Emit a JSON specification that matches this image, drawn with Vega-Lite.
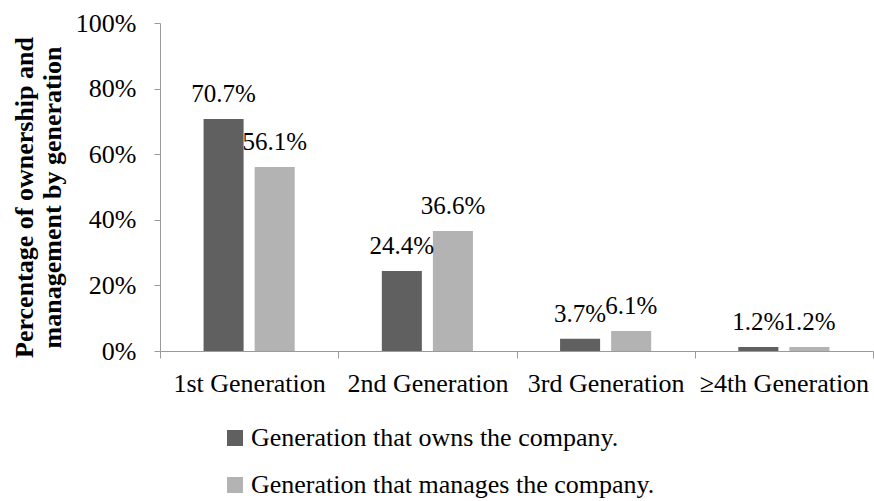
{
  "$schema": "https://vega.github.io/schema/vega-lite/v6.json",
  "width": 713,
  "height": 328,
  "autosize": {"type": "none"},
  "padding": {"left": 160, "top": 23, "right": 1, "bottom": 150},
  "background": "white",
  "config": {
    "view": {"stroke": null},
    "font": "Liberation Serif"
  },
  "data": {
    "values": [
      {"gen": "1st Generation", "series": "Generation that owns the company.", "value": 0.707},
      {"gen": "1st Generation", "series": "Generation that manages the company.", "value": 0.561},
      {"gen": "2nd Generation", "series": "Generation that owns the company.", "value": 0.244},
      {"gen": "2nd Generation", "series": "Generation that manages the company.", "value": 0.366},
      {"gen": "3rd Generation", "series": "Generation that owns the company.", "value": 0.037},
      {"gen": "3rd Generation", "series": "Generation that manages the company.", "value": 0.061},
      {"gen": "≥4th Generation", "series": "Generation that owns the company.", "value": 0.012},
      {"gen": "≥4th Generation", "series": "Generation that manages the company.", "value": 0.012}
    ]
  },
  "encoding": {
    "x": {
      "field": "gen", "type": "nominal", "sort": null,
      "scale": {"paddingInner": 0, "paddingOuter": 0},
      "axis": {
        "title": null, "labelAngle": 0, "tickBand": "extent",
        "labelFont": "Liberation Serif", "labelFontSize": 26, "labelColor": "black",
        "domainColor": "#9a9a9a", "tickColor": "#9a9a9a", "tickSize": 7,
        "labelPadding": 12, "labelLimit": 0
      }
    },
    "xOffset": {
      "field": "series", "type": "nominal", "sort": null,
      "scale": {"paddingInner": 0.216, "paddingOuter": 0.853}
    },
    "y": {
      "field": "value", "type": "quantitative",
      "scale": {"domain": [0, 1]},
      "axis": {
        "title": ["Percentage of ownership and", "management by generation"],
        "titleFont": "Liberation Serif", "titleFontSize": 26, "titleFontWeight": "bold",
        "titleColor": "black", "titleLineHeight": 28, "titlePadding": 10, "titleY": 174,
        "values": [0, 0.2, 0.4, 0.6, 0.8, 1], "format": ".0%",
        "labelFont": "Liberation Serif", "labelFontSize": 26, "labelColor": "black",
        "domainColor": "#9a9a9a", "tickColor": "#9a9a9a", "tickSize": 6,
        "labelPadding": 18, "grid": false
      }
    }
  },
  "layer": [
    {
      "mark": {"type": "bar"},
      "encoding": {
        "color": {
          "field": "series", "type": "nominal", "sort": null,
          "scale": {"range": ["#606060", "#b3b3b3"]},
          "legend": {
            "title": null, "orient": "none", "legendX": 62, "legendY": 402,
            "direction": "vertical", "symbolType": "square", "symbolSize": 256,
            "symbolStrokeWidth": 0, "labelFont": "Liberation Serif", "labelFontSize": 26,
            "labelColor": "black", "rowPadding": 21, "labelOffset": 3, "labelLimit": 0
          }
        }
      }
    },
    {
      "mark": {"type": "text", "baseline": "alphabetic", "dy": -17, "fontSize": 25, "font": "Liberation Serif", "color": "black"},
      "encoding": {
        "text": {"field": "value", "type": "quantitative", "format": ".1%"}
      }
    }
  ]
}
